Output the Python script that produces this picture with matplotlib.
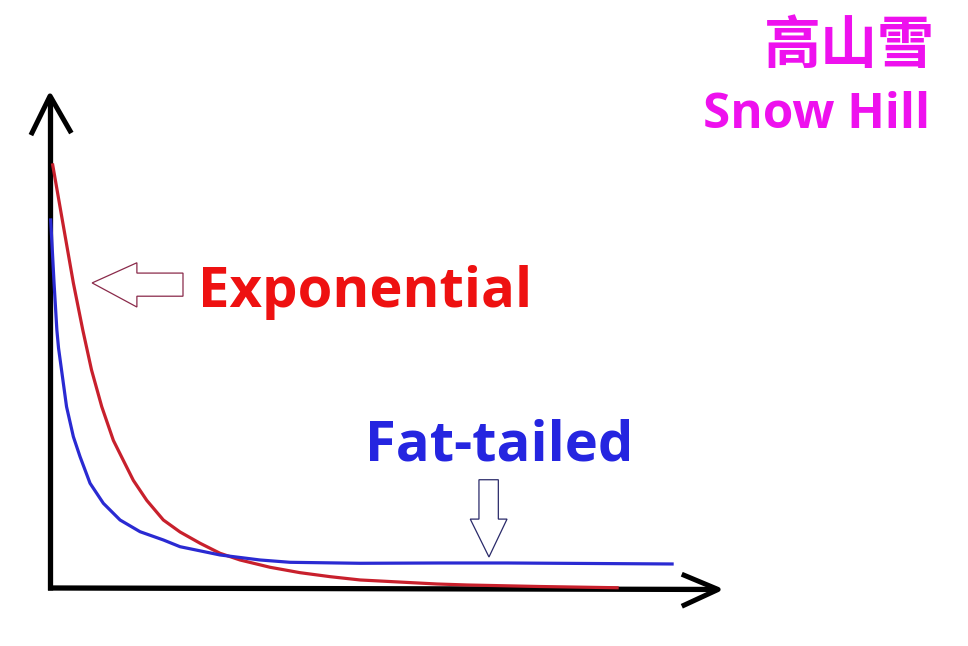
import matplotlib
matplotlib.use('Agg')
import matplotlib.pyplot as plt
from matplotlib.patches import Polygon

# curve values (x, y in arbitrary units)
exp_x = [0.040, 0.175, 0.349, 0.490, 0.621, 0.774, 0.948, 1.097, 1.247, 1.448,
         1.696, 1.946, 2.246, 2.545, 2.844, 3.293, 3.743, 4.192, 4.641, 5.793,
         6.243, 7.335, 8.488]
exp_y = [8.598, 7.547, 6.199, 5.244, 4.431, 3.685, 2.999, 2.593, 2.187, 1.780,
         1.382, 1.138, 0.909, 0.705, 0.569, 0.421, 0.311, 0.230, 0.163, 0.081,
         0.061, 0.030, 0.005]

fat_x = [0.010, 0.060, 0.102, 0.127, 0.172, 0.247, 0.349, 0.449, 0.599, 0.798,
         1.048, 1.347, 1.696, 1.946, 2.545, 3.144, 3.593, 4.641, 5.838, 6.841, 9.311]
fat_y = [7.480, 6.199, 5.244, 4.878, 4.431, 3.685, 3.075, 2.669, 2.128, 1.721,
         1.382, 1.144, 0.976, 0.839, 0.671, 0.569, 0.522, 0.502, 0.508, 0.508, 0.488]

labels = ['Exponential', 'Fat-tailed']
title_cn = '高山雪'
title_en = 'Snow Hill'

fig = plt.figure(figsize=(9.68, 6.46), dpi=100)
ax = fig.add_axes([0, 0, 1, 1])
ax.set_xlim(-0.749, 13.74)
ax.set_ylim(-1.179, 11.95)
ax.axis('off')

# hand drawn axes with open arrow heads
ax.plot([0, 0], [-0.04, 9.98], color='black', lw=3.8, solid_capstyle='butt')
ax.plot([-0.27, 0, 0.30], [9.25, 10.0, 9.29], color='black', lw=3.6)
ax.plot([-0.03, 9.98], [0, -0.03], color='black', lw=3.8, solid_capstyle='butt')
ax.plot([9.49, 10.0, 9.49], [0.26, -0.03, -0.35], color='black', lw=3.6)

ax.plot(exp_x, exp_y, color='#c8202c', lw=2.3, solid_joinstyle='round')
ax.plot(fat_x, fat_y, color='#2a2ad2', lw=2.3, solid_joinstyle='round')

# hollow arrows
left_arrow = [(0.63, 6.20), (1.30, 6.61), (1.30, 6.40), (1.99, 6.40),
              (1.99, 5.93), (1.30, 5.93), (1.30, 5.71)]
ax.add_patch(Polygon(left_arrow, closed=True, fill=False, edgecolor='#8a2a4a', lw=0.9))
down_arrow = [(6.42, 2.20), (6.71, 2.20), (6.71, 1.40), (6.84, 1.40),
              (6.57, 0.63), (6.29, 1.40), (6.42, 1.40)]
ax.add_patch(Polygon(down_arrow, closed=True, fill=False, edgecolor='#2a2a6a', lw=0.9))

ax.text(2.22, 5.71, labels[0], color='#ee1111', fontsize=40.5, fontweight='bold',
        family='Open Sans', ha='left', va='baseline')
ax.text(4.72, 2.60, labels[1], color='#2525e0', fontsize=40.5, fontweight='bold',
        family='Open Sans', ha='left', va='baseline')

ax.text(13.25, 10.43, title_cn, color='#ee11ee', fontsize=41, fontweight='bold',
        family=['Noto Sans CJK SC', 'DejaVu Sans'], ha='right', va='bottom')
ax.text(13.17, 9.35, title_en, color='#ee11ee', fontsize=35.5, fontweight='bold',
        family='Open Sans', ha='right', va='baseline')

fig.savefig('out.png', dpi=100, facecolor='white')
